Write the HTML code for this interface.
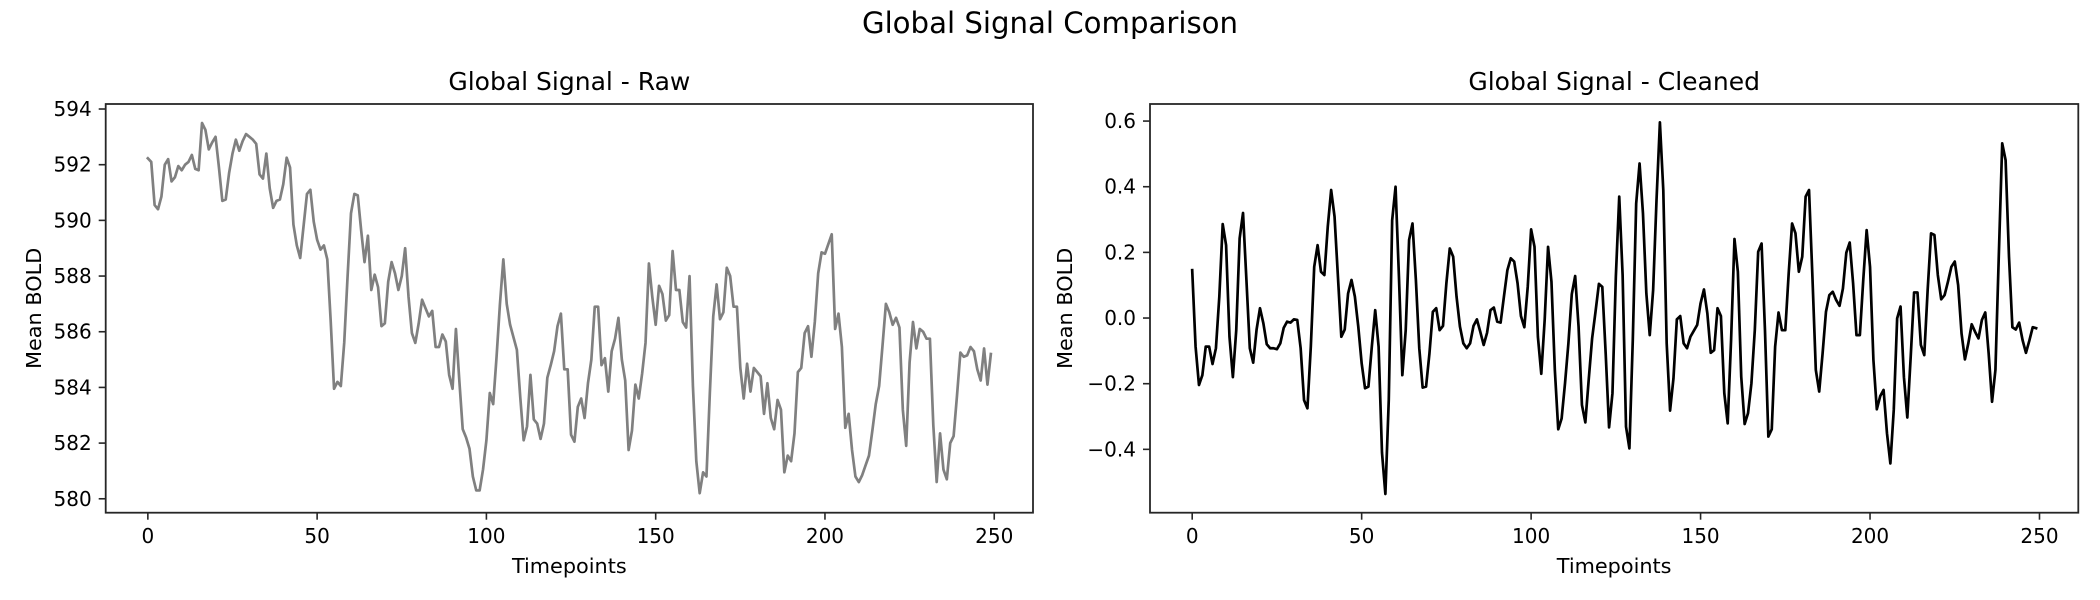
<!DOCTYPE html>
<html><head><meta charset="utf-8"><style>
html,body{margin:0;padding:0;background:#fff;}
svg{display:block;font-family:"DejaVu Sans","Liberation Sans",sans-serif;}
</style></head><body>
<svg id="fig" width="2100" height="600" viewBox="0 0 2100 600" xmlns="http://www.w3.org/2000/svg">
<text x="1050" y="33" font-size="29.2" text-anchor="middle" fill="#000">Global Signal Comparison</text>
<g id="left"></g>
<g id="right"></g>
</svg>
<script>
const rawValues=[592.23,592.1,590.55,590.4,590.85,592.0,592.2,591.4,591.55,591.95,591.8,592.0,592.1,592.35,591.85,591.8,593.5,593.25,592.55,592.8,593.0,591.9,590.7,590.75,591.7,592.4,592.9,592.5,592.85,593.1,593.0,592.9,592.75,591.65,591.5,592.4,591.15,590.45,590.7,590.75,591.3,592.25,591.9,589.85,589.1,588.65,589.8,590.95,591.1,589.95,589.3,588.95,589.1,588.6,586.4,583.95,584.2,584.05,585.6,588.0,590.25,590.95,590.9,589.65,588.5,589.45,587.5,588.05,587.6,586.2,586.3,587.8,588.5,588.1,587.5,588.0,589.0,587.25,585.95,585.6,586.3,587.15,586.85,586.55,586.75,585.45,585.45,585.9,585.65,584.45,583.95,586.1,584.25,582.5,582.2,581.8,580.8,580.3,580.3,581.05,582.1,583.8,583.4,585.1,587.0,588.6,587.0,586.25,585.8,585.35,583.65,582.1,582.6,584.45,582.85,582.7,582.15,582.7,584.35,584.8,585.3,586.2,586.65,584.65,584.65,582.3,582.05,583.3,583.6,582.9,584.15,585.0,586.9,586.9,584.8,585.05,583.85,585.3,585.75,586.5,585.0,584.25,581.75,582.45,584.1,583.6,584.5,585.6,588.45,587.25,586.25,587.65,587.35,586.4,586.6,588.9,587.5,587.5,586.35,586.15,588.0,584.05,581.35,580.2,580.95,580.8,583.8,586.55,587.7,586.45,586.7,588.3,588.0,586.9,586.9,584.7,583.6,584.85,583.85,584.7,584.55,584.4,583.05,584.15,582.9,582.5,583.55,583.2,580.95,581.55,581.35,582.35,584.55,584.7,585.95,586.2,585.1,586.35,588.1,588.85,588.8,589.15,589.5,586.1,586.65,585.45,582.55,583.05,581.75,580.8,580.6,580.85,581.2,581.55,582.45,583.4,584.05,585.5,587.0,586.7,586.25,586.5,586.15,583.2,581.9,584.9,586.35,585.4,586.1,586.0,585.75,585.75,582.65,580.6,582.35,581.05,580.7,582.0,582.25,583.7,585.25,585.1,585.15,585.45,585.3,584.65,584.25,585.4,584.1,585.2];
const cleanValues=[0.146,-0.087,-0.204,-0.174,-0.087,-0.087,-0.14,-0.092,0.065,0.286,0.222,-0.057,-0.18,-0.037,0.243,0.32,0.116,-0.092,-0.136,-0.035,0.03,-0.016,-0.08,-0.092,-0.092,-0.095,-0.077,-0.03,-0.011,-0.014,-0.004,-0.006,-0.092,-0.25,-0.275,-0.087,0.156,0.222,0.141,0.131,0.278,0.39,0.309,0.126,-0.057,-0.035,0.075,0.116,0.065,-0.026,-0.138,-0.214,-0.209,-0.087,0.024,-0.087,-0.41,-0.536,-0.25,0.298,0.4,0.126,-0.174,-0.037,0.238,0.288,0.116,-0.092,-0.212,-0.209,-0.108,0.019,0.03,-0.037,-0.024,0.106,0.212,0.187,0.065,-0.026,-0.077,-0.092,-0.077,-0.024,-0.004,-0.042,-0.082,-0.045,0.024,0.032,-0.011,-0.014,0.067,0.146,0.182,0.172,0.106,0.006,-0.028,0.095,0.27,0.217,-0.057,-0.17,-0.006,0.217,0.111,-0.158,-0.339,-0.306,-0.199,-0.077,0.073,0.128,-0.026,-0.265,-0.318,-0.187,-0.062,0.019,0.104,0.095,-0.108,-0.333,-0.229,0.126,0.37,0.131,-0.331,-0.397,-0.067,0.349,0.471,0.319,0.075,-0.052,0.085,0.359,0.596,0.39,-0.077,-0.282,-0.184,-0.004,0.006,-0.077,-0.092,-0.057,-0.039,-0.021,0.045,0.087,0.014,-0.106,-0.098,0.03,0.006,-0.229,-0.321,-0.067,0.241,0.141,-0.179,-0.323,-0.29,-0.199,-0.037,0.202,0.227,-0.037,-0.361,-0.339,-0.087,0.017,-0.037,-0.037,0.136,0.288,0.258,0.141,0.187,0.37,0.39,0.126,-0.158,-0.224,-0.108,0.019,0.07,0.08,0.055,0.037,0.09,0.199,0.23,0.106,-0.052,-0.052,0.116,0.268,0.156,-0.128,-0.278,-0.238,-0.219,-0.351,-0.443,-0.28,-0.001,0.035,-0.18,-0.303,-0.118,0.078,0.078,-0.082,-0.113,0.085,0.258,0.253,0.131,0.057,0.07,0.111,0.156,0.172,0.1,-0.047,-0.126,-0.077,-0.019,-0.042,-0.062,-0.006,0.017,-0.108,-0.255,-0.158,0.192,0.532,0.481,0.187,-0.028,-0.035,-0.014,-0.067,-0.106,-0.069,-0.028,-0.031];
const xTicks=[0,50,100,150,200,250];
const rawYTicks=[580,582,584,586,588,590,592,594];
const cleanYTicks=[-0.4,-0.2,0.0,0.2,0.4,0.6];
const cleanYLabels=["\u22120.4","\u22120.2","0.0","0.2","0.4","0.6"];

const NS="http://www.w3.org/2000/svg";
function mk(parent,tag,attrs,txt){const e=document.createElementNS(NS,tag);for(const k in attrs)e.setAttribute(k,attrs[k]);if(txt!==undefined)e.textContent=txt;parent.appendChild(e);return e;}

function drawChart(g,cfg){
  const L=cfg.left,R=cfg.right,T=104,B=512.7;
  const xmin=-12.45,xmax=261.45;
  const sx=v=>L+(v-xmin)/(xmax-xmin)*(R-L);
  const sy=v=>B-(v-cfg.ymin)/(cfg.ymax-cfg.ymin)*(B-T);
  let d="";
  cfg.values.forEach((v,i)=>{d+=(i?"L":"M")+sx(i).toFixed(2)+","+sy(v).toFixed(2);});
  const line=mk(g,"path",{d:d,fill:"none",stroke:cfg.color,"stroke-width":2.7,"stroke-linejoin":"round","stroke-linecap":"square"});
  
  
  const frame=mk(g,"rect",{x:L,y:T,width:R-L,height:B-T,fill:"none",stroke:"#262626","stroke-width":1.8});
  
  
  xTicks.forEach(t=>{
    const x=sx(t);
    mk(g,"line",{x1:x,x2:x,y1:B,y2:B+7,stroke:"#262626","stroke-width":1.6});
    const lb=mk(g,"text",{x:x,y:543,"font-size":20,"text-anchor":"middle",fill:"#000"},String(t));
    
    
  });
  cfg.yTicks.forEach((t,i)=>{
    const y=sy(t);
    mk(g,"line",{x1:L-7,x2:L,y1:y,y2:y,stroke:"#262626","stroke-width":1.6});
    const lb=mk(g,"text",{x:L-14,y:y+7,"font-size":20,"text-anchor":"end",fill:"#000"},cfg.yLabels?cfg.yLabels[i]:String(t));
    
    
  });
  const title=mk(g,"text",{x:(L+R)/2,y:90,"font-size":25,"text-anchor":"middle",fill:"#000"},cfg.title);
  
  
  const xl=mk(g,"text",{x:(L+R)/2,y:573,"font-size":20.8,"text-anchor":"middle",fill:"#000"},"Timepoints");
  
  
  const yl=mk(g,"text",{x:0,y:0,"font-size":20.8,"text-anchor":"middle",fill:"#000",transform:"translate("+(cfg.ylabelX)+","+((T+B)/2)+") rotate(-90)"},"Mean BOLD");
  
  
}
drawChart(document.getElementById("left"),{left:105.7,right:1033,values:rawValues,ymin:579.5,ymax:594.18,yTicks:rawYTicks,color:"#808080",title:"Global Signal - Raw",prefix:"raw",ylabelX:41});
drawChart(document.getElementById("right"),{left:1150,right:2078.3,values:cleanValues,ymin:-0.593,ymax:0.652,yTicks:cleanYTicks,yLabels:cleanYLabels,color:"#000000",title:"Global Signal - Cleaned",prefix:"cleaned",ylabelX:1072});
</script>
</body></html>
